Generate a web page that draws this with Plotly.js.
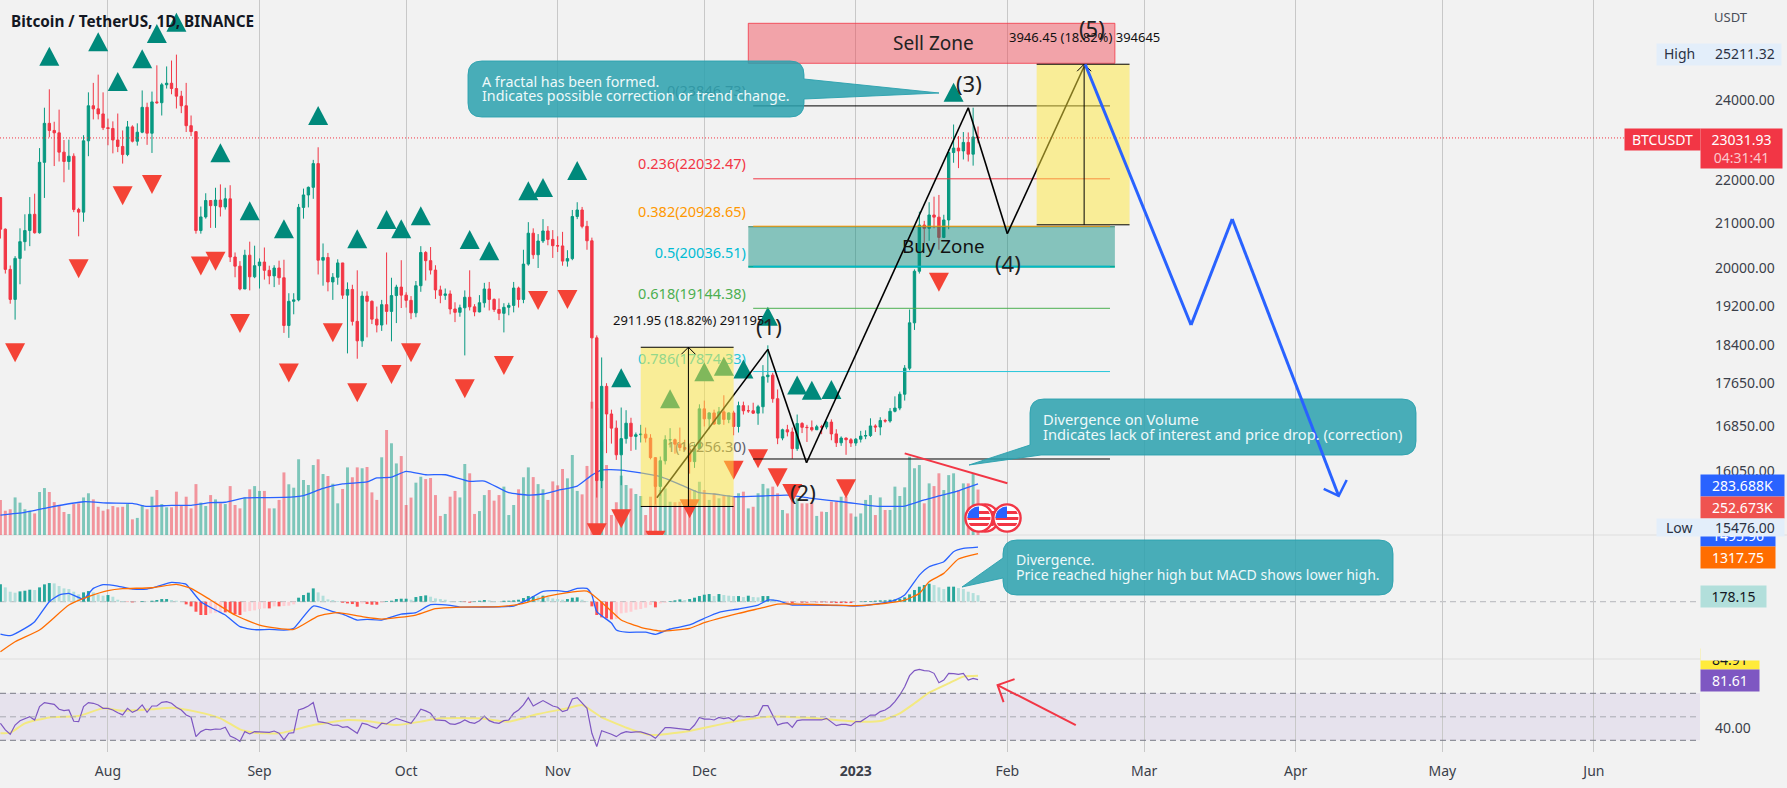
<!DOCTYPE html>
<html>
<head>
<meta charset="utf-8">
<script src="https://cdn.plot.ly/plotly-3.0.1.min.js"></script>
<style>html,body{margin:0;padding:0;background:#f2f2f2;overflow:hidden}</style>
</head>
<body>
<div id="chart" style="width:1787px;height:788px"></div>
<script>
// daily BTCUSDT, 2022-07-10 .. 2023-01-26
const firstOpen = 21590;
const closes = [
  20860,19970,19330,20210,20580,20830,21200,20780,22430,23400,23220,23160,22680,22450,22580,21310,21250,22960,23850,23770,23640,23290,
  23270,22980,22820,22620,23310,22950,23175,23810,23150,23950,23930,24400,24440,24300,24100,23850,23340,23190,20830,21140,21520,21400,21530,21370,21560,20240,20040,19550,20280,19810,20050,
  20130,19950,19830,20000,19790,18790,19290,19320,21360,21650,21830,22400,20170,20230,19700,19800,20110,19420,19540,18875,18480,19400,19290,18920,18800,19220,19080,19410,19590,19420,
  19310,19050,19620,20340,20160,19955,19530,19415,19445,19130,19060,19155,19375,19175,19070,19260,19550,19330,19120,19040,19165,19205,19570,19330,20085,20770,20290,20595,20820,20630,20490,
  20485,20150,20205,21150,21300,20925,20600,18540,15880,17590,17070,16810,16330,16620,16900,16660,16690,16700,16630,16280,15780,16225,16600,16600,16520,16460,16430,16210,16440,17165,
  16980,17090,16885,17110,16970,17090,16840,17225,17130,17130,17085,17205,17775,17805,17355,16630,16780,16740,16440,16895,16825,16820,16780,16835,16830,16920,16705,16545,16630,16600,16540,
  16610,16665,16675,16850,16830,16950,16940,17120,17180,17440,17940,18845,19930,20955,20880,21185,21135,20675,21070,22670,22780,22710,22920,22630,23055,23031.93
];
const highs = [
  21600,20880,20055,20260,20880,21200,21600,21680,22780,23800,24280,23440,23750,22980,22990,22650,21350,23100,24200,24450,24670,24200,
  23520,23450,23650,23220,23460,23350,23400,24250,23930,24220,24920,24450,24890,25050,25211.32,24240,24450,23600,23200,21380,21690,21530,21820,21900,21820,21880,20340,20150,20400,20580,20490,
  20210,20450,20050,20060,20160,20180,19460,19460,21440,21800,21850,22490,22800,20540,20330,19890,20190,20100,19690,19640,19950,19500,19500,19310,19180,19320,20340,19790,19640,20170,
  19480,19400,19720,20480,20370,20460,20060,19620,19560,19520,19270,19220,19520,19950,19230,19420,19680,19700,19350,19350,19250,19260,19700,19600,20400,21020,20880,20750,21090,20930,20840,
  20700,20800,20390,21300,21480,21370,21050,20670,18590,18150,17650,17150,16950,17190,17140,17000,16730,16870,16820,16700,16290,16300,16680,16810,16620,16820,16600,16480,16530,17250,
  17320,17100,17150,17200,17420,17100,17130,17300,17300,17230,17280,17240,18000,18390,17850,17530,16800,16870,16820,17060,16920,16870,16950,16870,16870,16940,16970,16790,16660,16640,16630,
  16630,16760,16770,16990,16880,17010,16980,17180,17400,17490,18000,19120,19970,21260,21050,21480,21610,21650,21190,22750,23370,23080,23180,23170,23800,23320
];
const lows = [
  20650,19880,19240,18910,19650,20380,20480,20760,20760,21580,23050,22340,22450,21950,22250,21250,20700,21030,22580,23500,23500,23230,
  22850,22650,22680,22400,22580,22920,22840,23150,22860,22660,23900,23600,24300,24150,23780,23660,23180,23080,20760,20760,21100,20890,20890,21150,21310,20130,19800,19520,19560,19520,19780,
  19560,19750,19650,19590,19640,18640,18540,19020,19290,21100,21360,21560,19860,19620,19500,19320,19640,19340,18230,18790,18125,18360,18550,18820,18650,18680,18810,18470,18840,19150,
  19160,18920,18960,19490,19730,19860,19340,19250,19320,19020,18860,18970,18190,19100,18980,19060,19160,19100,19070,18900,18650,19000,19060,19160,19250,20050,20200,20000,20550,20500,20220,
  20350,20050,20030,20170,21090,20880,20400,17170,15590,15750,16360,16530,16240,15800,16530,16400,16420,16550,16550,16250,15476,15620,16160,16460,16350,16400,16400,16000,16100,16420,
  16840,16790,16870,16880,16870,16900,16680,16730,17060,17090,17070,16870,17080,17660,17280,16520,16590,16660,16260,16400,16720,16560,16750,16790,16700,16790,16590,16470,16490,16330,16470,
  16490,16550,16610,16650,16740,16680,16910,16910,17100,17140,17320,17900,18700,19880,20550,20600,20880,20400,20660,20860,22420,22290,22500,22450,22350,22900
];
// volume in thousands
const volumes = [
  195,135,143,209,180,143,135,120,239,261,239,183,167,128,117,172,176,209,232,198,157,135,143,161,154,157,172,87,95,167,
  143,213,250,172,154,154,241,161,213,148,283,180,161,222,198,176,172,272,167,148,209,254,272,245,245,148,148,195,348,282,
  263,421,306,278,389,421,339,328,285,176,256,376,321,376,371,378,237,195,432,584,510,398,439,167,208,291,324,311,317,222,
  106,117,213,245,209,395,343,117,133,222,250,191,222,269,111,167,254,321,376,322,283,254,195,298,276,367,315,445,245,226,384,741,
  705,520,389,111,182,330,278,259,228,217,111,213,306,250,259,185,182,185,195,250,250,296,
  250,195,232,204,222,222,213,232,241,148,157,232,284,259,269,232,139,120,250,204,176,176,180,106,130,128,185,185,213,213,120,
  102,120,195,222,111,209,139,139,269,217,265,435,371,389,176,287,272,343,250,333,343,250,287,287,339,252.673
];
const volMaDates = ['2022-07-10','2022-07-15','2022-07-20','2022-07-27','2022-08-01','2022-08-06','2022-08-09','2022-08-14','2022-08-18','2022-08-22','2022-08-25','2022-08-29','2022-09-06','2022-09-10','2022-09-14','2022-09-18','2022-09-23','2022-09-25','2022-09-28','2022-10-01','2022-10-05','2022-10-09','2022-10-14','2022-10-17','2022-10-22','2022-10-26','2022-10-29','2022-11-01','2022-11-05','2022-11-08','2022-11-10','2022-11-14','2022-11-22','2022-11-27','2022-11-30','2022-12-03','2022-12-07','2022-12-13','2022-12-18','2022-12-23','2022-12-30','2023-01-05','2023-01-11','2023-01-15','2023-01-18','2023-01-22','2023-01-26'];
const volMa = [111,126,154,185,178,176,159,165,165,180,182,206,209,219,259,284,295,317,322,354,335,335,298,300,235,222,228,248,272,333,361,361,324,269,235,228,213,217,222,204,182,161,161,195,217,246,283.688];

const macdDates = ['2022-07-10','2022-07-12','2022-07-15','2022-07-17','2022-07-20','2022-07-22','2022-07-24','2022-07-27','2022-07-29','2022-07-31','2022-08-03','2022-08-06','2022-08-09','2022-08-11','2022-08-14','2022-08-17','2022-08-18','2022-08-20','2022-08-23','2022-08-25','2022-08-28','2022-08-31','2022-09-03','2022-09-06','2022-09-08','2022-09-12','2022-09-16','2022-09-18','2022-09-21','2022-09-23','2022-09-26','2022-09-30','2022-10-03','2022-10-06','2022-10-10','2022-10-12','2022-10-16','2022-10-23','2022-10-26','2022-10-29','2022-11-01','2022-11-03','2022-11-05','2022-11-07','2022-11-08','2022-11-09','2022-11-12','2022-11-13','2022-11-15','2022-11-19','2022-11-21','2022-11-24','2022-11-28','2022-12-01','2022-12-04','2022-12-08','2022-12-12','2022-12-14','2022-12-16','2022-12-19','2022-12-23','2022-12-30','2023-01-01','2023-01-05','2023-01-09','2023-01-11','2023-01-14','2023-01-16','2023-01-19','2023-01-21','2023-01-23','2023-01-26'];
const macdLine = [-886,-931,-730,-548,0,183,228,73,365,466,429,347,347,411,530,475,320,0,-228,-365,-685,-767,-758,-776,-730,-119,-274,-338,-502,-484,-502,-338,-301,-82,-100,-146,-146,-119,64,283,301,274,365,365,183,-274,-585,-775,-836,-836,-893,-748,-638,-455,-292,-200,-91,46,27,-91,-91,-110,-119,-64,46,183,730,959,1096,1370,1461,1495.96];
const signalDates = ['2022-07-10','2022-07-13','2022-07-18','2022-07-24','2022-07-28','2022-08-01','2022-08-04','2022-08-10','2022-08-15','2022-08-18','2022-08-22','2022-08-27','2022-09-01','2022-09-08','2022-09-13','2022-09-17','2022-09-22','2022-09-26','2022-10-03','2022-10-07','2022-10-12','2022-10-20','2022-10-25','2022-10-30','2022-11-07','2022-11-11','2022-11-14','2022-11-18','2022-11-22','2022-11-28','2022-12-01','2022-12-08','2022-12-13','2022-12-16','2022-12-20','2022-12-27','2023-01-01','2023-01-05','2023-01-11','2023-01-14','2023-01-16','2023-01-19','2023-01-22','2023-01-26'];
const signalLine = [-1370,-1096,-776,-91,137,301,356,383,475,365,46,-365,-639,-758,-393,-301,-411,-475,-365,-192,-146,-137,-46,155,292,-137,-501,-702,-803,-730,-575,-320,-164,-64,-64,-91,-110,-73,46,228,548,776,1169,1317.75];
const macdHist = [
  475,393,274,247,283,301,329,320,393,475,511,502,429,365,347,274,201,256,292,256,201,164,183,137,55,18,-9,-18,-9,18,
  9,27,46,73,73,46,27,9,-73,-128,-274,-365,-365,-320,-301,-292,-292,-292,-347,-365,-274,-256,-237,-201,-183,-183,-128,-128,-119,-110,
  -73,110,183,247,365,256,164,64,46,18,-27,-46,-64,-137,-46,-64,-82,-82,-27,18,27,73,82,82,55,128,155,173,137,91,
  73,55,18,9,9,-9,-27,9,27,46,37,18,9,27,27,37,55,100,155,155,146,164,128,91,73,55,73,110,119,55,18,
  -128,-365,-429,-457,-484,-475,-320,-301,-274,-219,-201,-164,-91,-155,-46,-27,18,37,64,46,73,110,155,
  192,210,155,210,183,164,155,155,128,164,128,119,155,155,73,27,18,-18,-37,-27,-27,-27,-18,-18,-18,-18,-27,-37,-37,-37,-37,
  -18,9,18,18,27,37,37,55,64,82,119,201,320,411,457,493,457,393,347,411,412,374,347,274,237,178.15
];

const rsi = [
  44.5,38.8,35.1,43,46.7,48.7,50.1,47.3,58.7,62.1,61.5,60.6,56.4,55.2,55.8,46.2,45.9,58.7,62.1,61.5,
  60.1,57.2,57.2,55.8,53.5,51.6,57.2,53.8,55.8,60.1,53.8,59.2,59.2,62.3,62.9,61.5,58.1,55.8,51.6,49.6,
  33.1,37.4,39.4,38.8,39.6,39.4,41.1,33.7,31.7,29.1,37.4,35.4,37.4,37.4,36.8,36.8,37.9,36,30.3,36,
  36.5,55.8,57.2,59.2,62.1,45.9,45.3,44.5,42.8,43,41.1,41.6,38.8,36,44.5,43.6,41.6,40.2,44.5,43.9,
  46.7,48.7,47.3,45.9,44.5,50.1,56.4,55,53,47.3,47.3,46.7,43.9,43.6,45,47.3,45.3,44.5,46.7,50.7,
  46.7,45,44.5,46.7,47.3,53,55.8,60.1,66.3,59.2,61.5,63.8,61.5,59.2,58.1,54.4,55.8,65.2,66.3,61.5,57.2,36,24.6,
  38.2,36.8,35.1,33.1,35.9,37.3,36.8,37.1,37.1,35.9,34.5,31.7,35.9,40.8,40.8,40.2,39.9,39.3,38.8,43,49.5,
  48.1,48.1,47.3,49.5,48.4,49.3,46.7,50.7,50.1,50.1,50.1,51.5,59.5,59.5,51.5,43,44.4,45,41,
  46.7,47.3,47.3,46.7,47.3,47.3,48.7,45.3,42.5,43.6,43.6,42.5,
  45.9,45.9,48.7,51.5,51.5,54.4,55.8,58.6,62.9,68.6,75.6,85,89.3,90.4,89.3,89,87,79,81.3,87,86.7,86.1,87,81.3,82.7,81.61
];
const rsiMaDates = ['2022-07-10','2022-07-12','2022-07-15','2022-07-20','2022-07-26','2022-07-31','2022-08-04','2022-08-10','2022-08-14','2022-08-19','2022-08-24','2022-08-28','2022-08-31','2022-09-05','2022-09-12','2022-09-19','2022-09-23','2022-09-29','2022-10-04','2022-10-08','2022-10-16','2022-10-22','2022-10-28','2022-11-03','2022-11-06','2022-11-10','2022-11-16','2022-11-20','2022-11-27','2022-12-07','2022-12-14','2022-12-24','2023-01-01','2023-01-06','2023-01-10','2023-01-13','2023-01-16','2023-01-20','2023-01-23','2023-01-26'];
const rsiMa = [35.9,36.5,44.4,49.5,50.7,57.2,55.2,56.4,57.8,54.4,48.7,39.3,36.5,35.9,43,47.3,46.4,43,45.9,48.7,48.7,45.9,52.4,57.2,60,49.5,39.3,34.5,37.3,45.9,50.1,48.7,45.9,46.4,53,61.5,70.5,78.5,84.2,84.9];

// fractal markers
const fractalUpDates = ['2022-07-20','2022-07-30','2022-08-03','2022-08-08','2022-08-11','2022-08-15','2022-08-24','2022-08-30','2022-09-06','2022-09-13','2022-09-21','2022-09-27','2022-09-30','2022-10-04','2022-10-14','2022-10-18','2022-10-26','2022-10-29','2022-11-05','2022-11-14','2022-11-24','2022-12-01','2022-12-05','2022-12-09','2022-12-14','2022-12-20','2022-12-23','2022-12-27','2023-01-21'];
const fractalUpPrices = [25430,25829,24741,25356,26064,26385,22898,21500,21085,23844,20858,21300,21085,21384,20841,20587,21972,22054,22462,17938,17534,18055,18164,18112,19178,17800,17698,17712,24456];
const fractalDownDates = ['2022-07-13','2022-07-26','2022-08-04','2022-08-10','2022-08-20','2022-08-23','2022-08-28','2022-09-07','2022-09-16','2022-09-21','2022-09-28','2022-10-02','2022-10-13','2022-10-21','2022-10-28','2022-11-03','2022-11-09','2022-11-14','2022-11-21','2022-11-28','2022-12-07','2022-12-12','2022-12-16','2022-12-19','2022-12-30','2023-01-18'];
const fractalDownPrices = [18430,20189,21855,22124,20249,20357,19027,18033,18834,17648,18000,18430,17724,18178,19508,19530,15161,15392,15038,15563,16226,16428,16092,15821,15902,19898];

// fib levels
const fibNames = ['0','0.236','0.382','0.5','0.618','0.786','1'];
const fibLevels = [23846.73,22032.47,20928.65,20036.51,19144.38,17874.33,16256.30];
const fibColors = ['#5d606b','#f23645','#ff9800','#00bcd4','#4caf50','#26c6da','#5d606b'];

// elliott wave drawing
const waveDates = ['2022-11-21 07:00','2022-12-14','2022-12-21 22:00','2023-01-24','2023-02-01','2023-02-16 22:00'];
const wavePrices = [15585,18310,16190,23800,20760,24950];
const projDates = ['2023-02-16 22:00','2023-03-10 14:00','2023-03-19','2023-04-09 19:00'];
const projPrices = [24950,18800,21093,15617];

const priceTicks = [24000,22000,21000,20000,19200,18400,17650,16850,16050];
const monthTicks = ['2022-08-01','2022-09-01','2022-10-01','2022-11-01','2022-12-01','2023-01-01','2023-02-01','2023-03-01','2023-04-01','2023-05-01','2023-06-01'];
const monthLabels = ['Aug','Sep','Oct','Nov','Dec','<b>2023</b>','Feb','Mar','Apr','May','Jun'];

const dates = closes.map((c, i) => new Date(Date.UTC(2022, 6, 10 + i)).toISOString().slice(0, 10));
const opens = closes.map((c, i) => i ? closes[i - 1] : firstOpen);
[highs, lows, volumes, macdHist, rsi].forEach(a => { if (a.length !== 201) throw new Error('bad length ' + a.length); });

const GREEN = '#089981', RED = '#f23645', FONT = '"Noto Sans", sans-serif';
const W = 1700, H = 752;
const px = x => x / W;
const py = y => 1 - y / H;
const P = (x, y) => `${x / W} ${1 - y / H}`;

const volColors = closes.map((c, i) => c >= opens[i] ? 'rgba(8,153,129,.5)' : 'rgba(242,54,69,.5)');
const histColors = macdHist.map((v, i) => {
  const prev = i ? macdHist[i - 1] : v;
  if (v >= 0) return v >= prev ? '#26a69a' : '#b2dfdb';
  return v <= prev ? '#ff5252' : '#ffcdd2';
});

const DAY = 86400000;
const traces = [
  { type: 'bar', x: dates, y: volumes, width: 0.6 * DAY, marker: { color: volColors, line: { width: 0 } }, yaxis: 'y' },
  { type: 'scatter', mode: 'lines', x: volMaDates, y: volMa, line: { color: '#2962ff', width: 1.3, shape: 'spline', smoothing: 0.5 }, yaxis: 'y' },
  { type: 'candlestick', x: dates, open: opens, high: highs, low: lows, close: closes, yaxis: 'y2', width: 0.62 * DAY, whiskerwidth: 0,
    increasing: { line: { color: GREEN, width: 1 }, fillcolor: GREEN },
    decreasing: { line: { color: RED, width: 1 }, fillcolor: RED } },
  // fib labels sit under the zones and callouts so they go in as a trace
  { type: 'scatter', mode: 'text', yaxis: 'y2', x: fibLevels.map(() => '2022-12-09 12:00'),
    y: [24209, 22366, 21230, 20307, 19410, 18100, 16452],
    text: fibNames.map((n, i) => `${n}(${fibLevels[i].toFixed(2)})`), textposition: 'middle left',
    textfont: { family: FONT, size: 14.5, color: fibColors } },
  { type: 'bar', x: dates, y: macdHist, width: 0.6 * DAY, marker: { color: histColors, line: { width: 0 } }, yaxis: 'y3' },
  { type: 'scatter', mode: 'lines', x: macdDates, y: macdLine, line: { color: '#2962ff', width: 1.3, shape: 'spline', smoothing: 0.5 }, yaxis: 'y3' },
  { type: 'scatter', mode: 'lines', x: signalDates, y: signalLine, line: { color: '#ff6d00', width: 1.3, shape: 'spline', smoothing: 0.5 }, yaxis: 'y3' },
  { type: 'scatter', mode: 'lines', x: rsiMaDates, y: rsiMa, line: { color: '#f3e981', width: 2, shape: 'spline', smoothing: 0.5 }, yaxis: 'y4' },
  { type: 'scatter', mode: 'lines', x: dates, y: rsi, line: { color: '#7e57c2', width: 1.2 }, yaxis: 'y4' }
];

const ln = (x0, y0, x1, y1, color, width, extra) => Object.assign({ type: 'line', xref: 'x', yref: 'y2', x0, y0, x1, y1, layer: 'above', line: { color, width } }, extra || {});
const pix = (x, y, path, color, fill, width) => ({ type: 'path', xref: 'x', yref: 'y2', xsizemode: 'pixel', ysizemode: 'pixel', xanchor: x, yanchor: y, path, layer: 'above', fillcolor: fill, line: { color, width } });
const box = (x0, x1, y0, y1, fill, lineSpec) => ({ type: 'rect', xref: 'x', yref: 'y2', x0, x1, y0, y1, layer: 'above', fillcolor: fill, line: lineSpec || { width: 0 } });
const callout = (path) => ({ type: 'path', xref: 'paper', yref: 'paper', path, layer: 'above', fillcolor: 'rgba(42,161,174,.85)', line: { color: 'rgba(42,161,174,.9)', width: 1 } });

const shapes = [];
// band and dashed guides in the lower panes
shapes.push({ type: 'rect', xref: 'paper', yref: 'y4', x0: 0, x1: 1, y0: 30, y1: 70, layer: 'below', fillcolor: 'rgba(126,87,194,.1)', line: { width: 0 } });
[[70, '#787b86'], [50, '#a9abb3'], [30, '#787b86']].forEach(g => shapes.push({ type: 'line', xref: 'paper', yref: 'y4', x0: 0, x1: 1, y0: g[0], y1: g[0], layer: 'above', line: { color: g[1], width: 1, dash: '6px,4px' } }));
shapes.push({ type: 'line', xref: 'paper', yref: 'y3', x0: 0, x1: 1, y0: 0, y1: 0, layer: 'below', line: { color: '#b4b5ba', width: 1, dash: '6px,4px' } });
// pane separators
[535, 659].forEach(y => shapes.push({ type: 'line', xref: 'paper', yref: 'paper', x0: 0, x1: 1787 / W, y0: py(y), y1: py(y), layer: 'below', line: { color: '#dedede', width: 1 } }));
// last price
shapes.push({ type: 'line', xref: 'paper', yref: 'y2', x0: 0, x1: 1624 / W, y0: 23031.93, y1: 23031.93, layer: 'above', line: { color: RED, width: 1, dash: '1px,2px' } });

fractalUpDates.forEach((d, i) => shapes.push(pix(d, fractalUpPrices[i], 'M 0 0 L -10 -19 L 10 -19 Z', '#00897b', '#00897b', 0)));
fractalDownDates.forEach((d, i) => shapes.push(pix(d, fractalDownPrices[i], 'M -10 0 L 10 0 L 0 -19 Z', '#f44336', '#f44336', 0)));

// sell and buy zones
shapes.push(box('2022-12-10', '2023-02-23', 24975, 26083, 'rgba(242,54,69,.42)', { color: 'rgba(242,54,69,.8)', width: 1 }));
shapes.push(box('2022-12-10', '2023-02-23', 20028, 20916, 'rgba(0,137,123,.45)', { width: 0 }));
shapes.push(ln('2022-12-10', 20916, '2023-02-23', 20916, '#3d8466', 1));
shapes.push(ln('2022-12-10', 20028, '2023-02-23', 20028, '#00ad9c', 2));

// fib lines, the two ends are black
fibLevels.forEach((v, i) => {
  const c = (i === 0 || i === fibLevels.length - 1) ? '#000000' : fibColors[i];
  shapes.push(ln('2022-12-11', v, '2023-02-22', v, c, 1));
});
// impulse wave
waveDates.slice(1).forEach((d, i) => shapes.push(ln(waveDates[i], wavePrices[i], d, wavePrices[i + 1], '#000000', 1.6)));

// measuring boxes
shapes.push(box('2022-11-18', '2022-12-07', 15440, 18352, 'rgba(255,232,59,.5)'));
shapes.push(box('2023-02-07', '2023-02-26', 20960, 24950, 'rgba(255,232,59,.5)'));
[['2022-11-18', '2022-12-07', 15440, 18352, '2022-11-27 18:00'], ['2023-02-07', '2023-02-26', 20960, 24950, '2023-02-16 17:00']].forEach(b => {
  shapes.push(ln(b[0], b[2], b[1], b[2], '#000000', 1));
  shapes.push(ln(b[0], b[3], b[1], b[3], '#000000', 1));
  shapes.push(ln(b[4], b[2], b[4], b[3], '#000000', 1));
  shapes.push(pix(b[4], b[3], 'M -7 -7 L 0 0 L 7 -7', '#000000', 'rgba(0,0,0,0)', 1));
});

// volume divergence
shapes.push(ln('2023-01-11', 16356, '2023-02-01', 15833, RED, 2));
// rsi arrow
shapes.push(ln('2023-02-15', 43, '2023-01-30', 77, RED, 2, { yref: 'y4' }));
shapes.push(Object.assign(pix('2023-01-30', 77, 'M 17 6 L 0 0 L 6 -17', RED, 'rgba(0,0,0,0)', 2), { yref: 'y4' }));

// callouts
shapes.push(callout(`M ${P(482, 61)} L ${P(790, 61)} Q ${P(804, 61)} ${P(804, 75)} L ${P(804, 79)} L ${P(939, 93)} L ${P(804, 99)} L ${P(804, 103)} Q ${P(804, 117)} ${P(790, 117)} L ${P(482, 117)} Q ${P(468, 117)} ${P(468, 103)} L ${P(468, 75)} Q ${P(468, 61)} ${P(482, 61)} Z`));
shapes.push(callout(`M ${P(1044, 399)} L ${P(1402, 399)} Q ${P(1416, 399)} ${P(1416, 413)} L ${P(1416, 441)} Q ${P(1416, 455)} ${P(1402, 455)} L ${P(1041, 455)} L ${P(969, 465)} L ${P(1030, 445)} L ${P(1030, 413)} Q ${P(1030, 399)} ${P(1044, 399)} Z`));
shapes.push(callout(`M ${P(1017, 540)} L ${P(1379, 540)} Q ${P(1393, 540)} ${P(1393, 554)} L ${P(1393, 581)} Q ${P(1393, 595)} ${P(1379, 595)} L ${P(1017, 595)} Q ${P(1003, 595)} ${P(1003, 581)} L ${P(1003, 578)} L ${P(962, 587)} L ${P(1003, 558)} L ${P(1003, 554)} Q ${P(1003, 540)} ${P(1017, 540)} Z`));

// projected path
projDates.slice(1).forEach((d, i) => shapes.push(ln(projDates[i], projPrices[i], d, projPrices[i + 1], '#2962ff', 3)));
shapes.push(pix('2023-04-09 19:00', 15617, 'M -15 7 L 0 0 L 8 16', '#2962ff', 'rgba(0,0,0,0)', 2.5));

// text helpers, positions in page pixels
const txt = (x, y, text, size, color, opt) => Object.assign({ xref: 'paper', yref: 'paper', x: px(x), y: py(y), text, showarrow: false, xanchor: 'left', yanchor: 'middle', align: 'left', font: { family: FONT, size, color } }, opt || {});
const tag = (l, t, r, b, text, bg, color) => ({ xref: 'paper', yref: 'paper', x: px(l), y: py(t), xanchor: 'left', yanchor: 'top', width: r - l, height: b - t, bgcolor: bg, text, showarrow: false, align: 'center', valign: 'middle', borderpad: 0, font: { family: FONT, size: 14, color } });

const annotations = [
  txt(9, 20.5, '<b>Bitcoin / TetherUS, 1D, BINANCE</b>', 15.3, '#131722'),
  txt(1712, 17, 'USDT', 13, '#4a4e59'),
  txt(769, 326, '(1)', 22, '#222', { xanchor: 'center' }),
  txt(803, 492, '(2)', 22, '#222', { xanchor: 'center' }),
  txt(969, 83, '(3)', 22, '#222', { xanchor: 'center' }),
  txt(1008, 263, '(4)', 22, '#222', { xanchor: 'center' }),
  txt(1092, 28, '(5)', 22, '#222', { xanchor: 'center' }),
  txt(933, 43, 'Sell Zone', 19, '#222', { xanchor: 'center' }),
  txt(943, 246, 'Buy Zone', 18.8, '#111', { xanchor: 'center' }),
  txt(611, 320, '2911.95 (18.82%) 291195', 13, '#111'),
  txt(1007, 37, '3946.45 (18.82%) 394645', 13, '#111'),
  txt(480, 81, 'A fractal has been formed.', 14.3, '#eef9fa'),
  txt(480, 96, 'Indicates possible correction or trend change.', 14.3, '#eef9fa'),
  txt(1041, 419, 'Divergence on Volume', 14.7, '#eef9fa'),
  txt(1041, 434, 'Indicates lack of interest and price drop. (correction)', 14.7, '#eef9fa'),
  txt(1014, 559, 'Divergence.', 14.1, '#eef9fa'),
  txt(1014, 574, 'Price reached higher high but MACD shows lower high.', 14.1, '#eef9fa'),
  // axis tags
  tag(1656, 43, 1780, 64, ' ', '#e3eefa', '#333'),
  txt(1662, 54, 'High', 14, '#2b3244'),
  txt(1713, 54, '25211.32', 14, '#2b3244'),
  tag(1624, 128, 1699, 149, 'BTCUSDT', RED, '#ffffff'),
  tag(1700, 128, 1781, 167, '23031.93<br><span style="color:#fbc6cb">04:31:41</span>', RED, '#ffffff'),
  tag(1700, 474, 1783, 495, '283.688K', '#2962ff', '#ffffff'),
  tag(1700, 496, 1783, 517, '252.673K', '#ef5350', '#ffffff'),
  tag(1700, 524, 1774, 545, '1495.96', '#2962ff', '#ffffff'),
  tag(1656, 518, 1783, 535, ' ', '#e3eefa', '#333'),
  txt(1664, 527, 'Low', 14, '#2b3244'),
  txt(1713, 527, '15476.00', 14, '#2b3244'),
  tag(1700, 545.5, 1774, 566, '1317.75', '#ff6d00', '#ffffff'),
  tag(1700, 585, 1765, 606, '178.15', '#b2dfdb', '#131722'),
  tag(1700, 648, 1758, 668, '84.91', '#ffeb3b', '#131722'),
  tag(1700, 646, 1787, 659, ' ', '#f2f2f2', '#333'),
  tag(1700, 669, 1758, 690, '81.61', '#7e57c2', '#ffffff')
];

const flag = "<svg xmlns='http://www.w3.org/2000/svg' viewBox='0 0 30 30'><defs><clipPath id='c'><circle cx='15' cy='15' r='11.5'/></clipPath></defs><circle cx='15' cy='15' r='13.6' fill='#fff' stroke='#f23645' stroke-width='2.4'/><g clip-path='url(#c)'><rect width='30' height='30' fill='#fff'/><rect y='8' width='30' height='3' fill='#f23645'/><rect y='14' width='30' height='3' fill='#f23645'/><rect y='20' width='30' height='3' fill='#f23645'/><rect x='0' y='3' width='15' height='12' fill='#2962ff'/></g></svg>";
const flagUri = 'data:image/svg+xml;charset=utf-8,' + encodeURIComponent(flag);
const images = [985, 979, 1007].map(cx => ({ source: flagUri, xref: 'paper', yref: 'paper', x: px(cx - 15), y: py(518 - 15), sizex: 30 / W, sizey: 30 / H, xanchor: 'left', yanchor: 'top', sizing: 'stretch', layer: 'above' }));

const layout = {
  width: 1787, height: 788,
  margin: { l: 0, r: 87, t: 0, b: 36, pad: 0 },
  paper_bgcolor: '#f2f2f2', plot_bgcolor: '#f2f2f2',
  showlegend: false, hovermode: false, dragmode: false, barmode: 'overlay',
  font: { family: FONT, size: 14, color: '#3b3f4a' },
  xaxis: {
    type: 'date', anchor: 'y4', range: ['2022-07-09 21:50', '2023-06-22 17:00'], rangeslider: { visible: false },
    tickmode: 'array', tickvals: monthTicks, ticktext: monthLabels, ticks: '', ticklabelstandoff: 9,
    showgrid: true, gridcolor: '#c8c8c8', gridwidth: 1, zeroline: false, showline: false,
    tickfont: { family: FONT, size: 14, color: '#3b3f4a' }
  },
  yaxis: { domain: [1 - 535 / H, 1], range: [0, 2975], visible: false, showgrid: false, zeroline: false },
  yaxis2: {
    overlaying: 'y', side: 'right', type: 'log', range: [4.1752, 4.42734],
    tickmode: 'array', tickvals: priceTicks, ticktext: priceTicks.map(v => v.toFixed(2)), ticks: '', ticklabelstandoff: 14,
    showgrid: false, zeroline: false, showline: false, tickfont: { family: FONT, size: 14, color: '#3b3f4a' }
  },
  yaxis3: { domain: [1 - 659 / H, 1 - 535 / H], range: [-1570, 1828], visible: false, showgrid: false, zeroline: false },
  yaxis4: {
    domain: [0, 1 - 659 / H], range: [20.04, 99.2], side: 'right',
    tickmode: 'array', tickvals: [40], ticktext: ['40.00'], ticks: '', ticklabelstandoff: 14,
    showgrid: false, zeroline: false, showline: false, tickfont: { family: FONT, size: 14, color: '#3b3f4a' }
  },
  shapes, annotations, images
};

Plotly.newPlot('chart', traces, layout, { displayModeBar: false, staticPlot: true });
</script>
</body>
</html>
